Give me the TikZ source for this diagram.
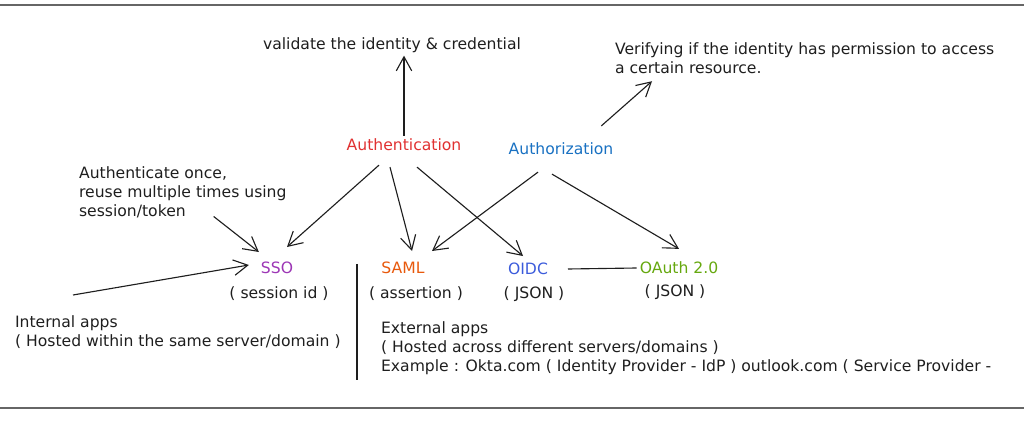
\documentclass[tikz,border=0pt]{standalone}
\usepackage{fontspec}
\setmainfont{DejaVu Sans}
\usetikzlibrary{arrows.meta}
\definecolor{authred}{HTML}{E03131}
\definecolor{authblue}{HTML}{1971C2}
\definecolor{ssopurple}{HTML}{9C36B5}
\definecolor{samlorange}{HTML}{E8590C}
\definecolor{oidcblue}{HTML}{3B5BDB}
\definecolor{oauthgreen}{HTML}{66A80F}
\definecolor{inkgray}{HTML}{1E1E1E}
\begin{document}
\begin{tikzpicture}[font=\fontsize{11.1}{13.5}\selectfont,
  txt/.style={inner sep=2pt, text=inkgray},
  notes/.style={txt, align=left},
  arr/.style={draw=inkgray, line width=0.8pt, -{Straight Barb[length=10pt,width=11pt]}},
  frame/.style={draw=gray!80!black, line width=1.6pt}]
\useasboundingbox (0,0) rectangle (25.6,-10.775);
\draw[frame] (0,-0.125) -- (25.6,-0.125);
\draw[frame] (0,-10.2) -- (25.6,-10.2);
\node[txt] (valid) at (9.8,-1.125) {validate the identity \& credential};
\node[notes, anchor=north west] (verify) at (15.3,-1.0) {Verifying if the identity has permission to access\\a certain resource.};
\node[txt, text=authred] (authn) at (10.1,-3.625) {Authentication};
\node[txt, text=authblue] (authz) at (14.025,-3.725) {Authorization};
\node[txt, text=ssopurple] (sso) at (6.925,-6.7) {SSO};
\node[txt, text=samlorange] (saml) at (10.075,-6.7) {SAML};
\node[txt, text=oidcblue] (oidc) at (13.2,-6.725) {OIDC};
\node[txt, text=oauthgreen] (oauth) at (16.975,-6.7) {OAuth 2.0};
\node[txt] (sessid) at (6.975,-7.35) {( session id )};
\node[txt] (assert) at (10.4,-7.35) {( assertion )};
\node[txt] (json1) at (13.35,-7.35) {( JSON )};
\node[txt] (json2) at (16.875,-7.3) {( JSON )};
\node[notes, anchor=north west] (once) at (1.9,-4.1) {Authenticate once,\\reuse multiple times using\\session/token};
\node[notes, anchor=north west] (internal) at (0.3,-7.825) {Internal apps\\( Hosted within the same server/domain )};
\node[notes, anchor=north west] (external) at (9.45,-7.975) {External apps\\( Hosted across different servers/domains )\\Example : Okta.com ( Identity Provider - IdP ) outlook.com ( Service Provider -};
% what each one does
\draw[arr] (authn.north) -- (authn.north |- valid.south);
\draw[arr] ([shift={(-0.375,0.35)}]authz.north east) -- ([shift={(1.0,-0.1)}]verify.south west);
% protocols
\draw[arr] ([shift={(-0.625,-0.275)}]authn.south) -- ([shift={(0.25,0.3)}]sso.north);
\draw[arr] ([shift={(-0.35,-0.325)}]authn.south) -- ([shift={(0.225,0.2)}]saml.north);
\draw[arr] ([shift={(0.325,-0.325)}]authn.south) -- ([shift={(-0.125,0.1)}]oidc.north);
\draw[arr] ([shift={(-0.575,-0.35)}]authz.south) -- ([shift={(0.725,0.2)}]saml.north);
\draw[arr] ([shift={(-0.225,-0.4)}]authz.south) -- ([shift={(0,0.25)}]oauth.north);
\draw[draw=inkgray, line width=0.8pt] ([xshift=0.425cm]oidc.east) -- (oauth.west);
% notes on SSO
\draw[arr] ([shift={(-1.9,0.125)}]once.south east) -- ([shift={(0.025,0.175)}]sso.north west);
\draw[arr] ([shift={(1.525,0.45)}]internal.north west) -- ([shift={(-0.225,0.075)}]sso.west);
\draw[draw=inkgray, line width=0.8pt] (8.925,-6.6) -- (8.925,-9.5);
\end{tikzpicture}
\end{document}
